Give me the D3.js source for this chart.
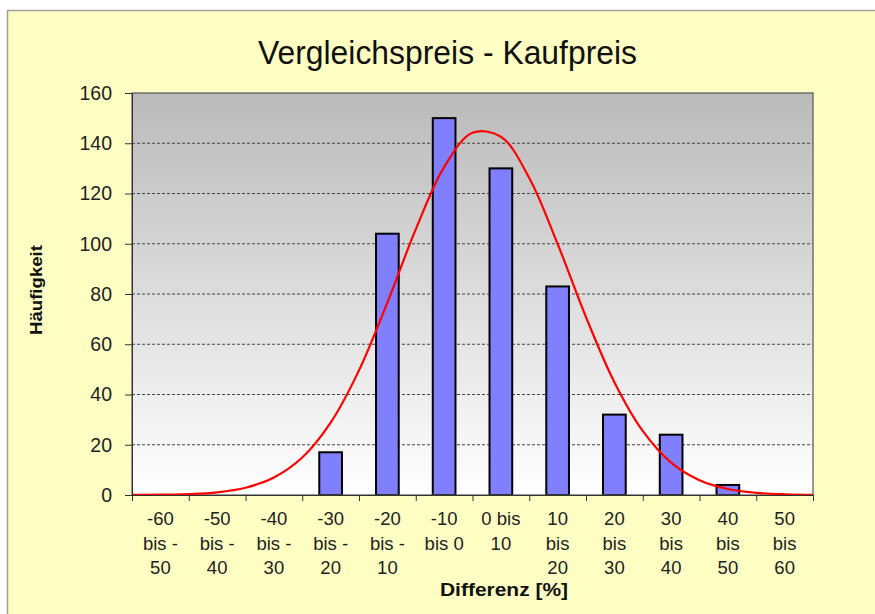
<!DOCTYPE html>
<html>
<head>
<meta charset="utf-8">
<script src="https://cdn.jsdelivr.net/npm/d3@7"></script>
<style>
  html, body { margin: 0; padding: 0; background: #fff; }
  svg { display: block; font-family: 'Liberation Sans', Arial, sans-serif; }
</style>
</head>
<body>
<svg id="chart" width="875" height="614"></svg>
<script>
// categories (x axis bins) and their label lines as shown
const categories = ['-60 bis -50', '-50 bis -40', '-40 bis -30', '-30 bis -20', '-20 bis -10', '-10 bis 0',
  '0 bis 10', '10 bis 20', '20 bis 30', '30 bis 40', '40 bis 50', '50 bis 60']
const labelLines = [
  ['-60', 'bis -', '50'], ['-50', 'bis -', '40'], ['-40', 'bis -', '30'], ['-30', 'bis -', '20'],
  ['-20', 'bis -', '10'], ['-10', 'bis 0'], ['0 bis', '10'], ['10', 'bis', '20'],
  ['20', 'bis', '30'], ['30', 'bis', '40'], ['40', 'bis', '50'], ['50', 'bis', '60']
]
// frequency per bin
const counts = [0, 0, 0, 17, 104, 150, 130, 83, 32, 24, 4, 0]

// fitted normal curve
const curveX = [-60, -55, -50, -45, -40, -35, -30, -25, -20, -15, -10, -5, 0, 5, 10, 15, 20, 25, 30, 35, 40, 45, 50, 55, 60]
const curveY = [0.03, 0.11, 0.36, 1.07, 2.89, 6.94, 14.9, 28.8, 49.6, 76.6, 105.7, 130.5, 144.2, 142.6, 126.2, 99.9, 70.8, 44.9, 25.5, 12.9, 5.88, 2.39, 0.87, 0.28, 0.08]

const yTicks = [0, 20, 40, 60, 80, 100, 120, 140, 160]

const svg = d3.select('#chart')

const marginLeft = 132,
  marginTop = 93,
  width = 681,
  height = 402

// outer panel
svg.append('rect')
  .attr('x', 7.5).attr('y', 10.5)
  .attr('width', 900).attr('height', 700)
  .attr('fill', '#ffffc4')
  .attr('stroke', '#a0a0a0')
  .attr('stroke-width', 1.5)

const defs = svg.append('defs')
const grad = defs.append('linearGradient')
  .attr('id', 'bg').attr('x1', 0).attr('y1', 0).attr('x2', 0).attr('y2', 1)
grad.append('stop').attr('offset', '0%').attr('stop-color', '#bababa')
grad.append('stop').attr('offset', '100%').attr('stop-color', '#ffffff')

svg.append('text')
  .attr('x', 447.5).attr('y', 64)
  .attr('text-anchor', 'middle')
  .attr('font-size', 33)
  .attr('textLength', 379)
  .attr('lengthAdjust', 'spacingAndGlyphs')
  .attr('fill', '#111')
  .text('Vergleichspreis - Kaufpreis')

const g = svg.append('g').attr('transform', `translate(${marginLeft},${marginTop})`)

const x = d3.scaleBand().domain(categories).range([0, width]).paddingInner(0.6).paddingOuter(0.3)
const xv = d3.scaleLinear().domain([-60, 60]).range([0, width])
const y = d3.scaleLinear().domain([0, 160]).range([height, 0])

g.append('rect')
  .attr('width', width).attr('height', height)
  .attr('fill', 'url(#bg)')

// grid lines
g.selectAll('.grid')
  .data(yTicks.filter(d => d > 0 && d < 160))
  .enter().append('line')
    .attr('x1', 0).attr('x2', width)
    .attr('y1', d => y(d)).attr('y2', d => y(d))
    .attr('stroke', '#444')
    .attr('stroke-dasharray', '3,2')

// bars
g.selectAll('.bar')
  .data(counts.map((c, i) => ({ cat: categories[i], c })).filter(d => d.c > 0))
  .enter().append('rect')
    .attr('x', d => x(d.cat))
    .attr('y', d => y(d.c))
    .attr('width', x.bandwidth())
    .attr('height', d => height - y(d.c))
    .attr('fill', '#8080ff')
    .attr('stroke', '#000')
    .attr('stroke-width', 2)

// border of plot area
g.append('rect')
  .attr('width', width).attr('height', height)
  .attr('fill', 'none')
  .attr('stroke', '#555')
  .attr('stroke-width', 1.2)

// normal curve
const line = d3.line()
  .x((d, i) => xv(curveX[i]))
  .y(d => y(d))
  .curve(d3.curveCatmullRom)

g.append('path')
  .datum(curveY)
  .attr('d', line)
  .attr('fill', 'none')
  .attr('stroke', '#ff0000')
  .attr('stroke-width', 2.2)

// y axis
const yAxis = g.append('g')
  .call(d3.axisLeft(y).tickValues(yTicks).tickSize(7).tickSizeOuter(0))
yAxis.select('.domain').attr('stroke', '#333')
yAxis.selectAll('line').attr('stroke', '#333')
yAxis.selectAll('text')
  .attr('font-size', 19.5)
  .attr('fill', '#222')
  .attr('font-family', 'Liberation Sans, Arial, sans-serif')
  .attr('dx', -10)

// x axis: ticks at bin edges
const xAxis = g.append('g')
  .attr('transform', `translate(0,${height})`)
  .call(d3.axisBottom(xv).tickValues(d3.range(-60, 61, 10)).tickSize(6).tickFormat(''))
xAxis.select('.domain').attr('stroke', '#333')
xAxis.selectAll('line').attr('stroke', '#333')

const lbl = g.append('g')
  .selectAll('text')
  .data(categories)
  .enter().append('text')
    .attr('text-anchor', 'middle')
    .attr('font-size', 18.5)
    .attr('fill', '#222')
    .attr('transform', d => `translate(${x(d) + x.bandwidth() / 2},${height + 30})`)

lbl.selectAll('tspan')
  .data((d, i) => labelLines[i])
  .enter().append('tspan')
    .attr('x', 0)
    .attr('y', (d, i) => i * 24.5)
    .text(d => d)

svg.append('text')
  .attr('x', 504).attr('y', 596)
  .attr('text-anchor', 'middle')
  .attr('font-size', 19)
  .attr('font-weight', 'bold')
  .attr('textLength', 128)
  .attr('lengthAdjust', 'spacingAndGlyphs')
  .attr('fill', '#111')
  .text('Differenz [%]')

svg.append('text')
  .attr('transform', 'translate(42,290) rotate(-90)')
  .attr('text-anchor', 'middle')
  .attr('font-size', 17)
  .attr('font-weight', 'bold')
  .attr('textLength', 90)
  .attr('lengthAdjust', 'spacingAndGlyphs')
  .attr('fill', '#111')
  .text('Häufigkeit')
</script>
</body>
</html>
